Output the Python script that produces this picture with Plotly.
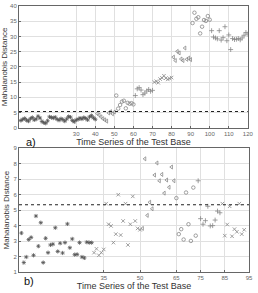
import plotly.graph_objects as go

# ---- data ----
top_x = list(range(1, 121))
top_y = [2.4, 2.8, 3.1, 2.5, 2.2, 3.0, 3.4, 2.6, 2.9, 3.8,
         3.2, 2.1, 1.7, 1.5, 2.3, 3.6, 3.4, 3.2, 3.5, 2.8,
         2.5, 3.0, 2.7, 2.2, 2.9, 3.7, 3.5, 2.4, 2.0, 2.6,
         2.8, 3.2, 2.9, 3.4, 3.1, 2.6, 3.6, 4.0, 3.3, 2.8,
         4.7, 4.2, 3.6, 3.0, 2.6, 2.2, 4.9, 5.3, 4.6, 5.2,
         10.6, 6.3, 7.5, 8.6, 8.9, 6.4, 8.2, 7.9, 8.1, 7.7,
         10.6, 12.8, 13.2, 12.4, 10.9, 11.4, 12.1, 12.6, 12.0, 12.3,
         15.0, 15.3, 14.8, 16.0, 16.4, 17.1, 16.3, 15.9, 16.2, 16.5,
         23.2, 22.1, 25.1, 24.6, 22.6, 22.1, 26.2, 22.5, 22.9, 22.4,
         34.4, 37.8, 35.8, 36.3, 31.0, 33.2, 35.4, 35.1, 36.7, 35.5,
         31.9, 29.8, 29.5, 29.2, 31.9, 28.8, 29.6, 33.2, 28.6, 30.5,
         25.7, 29.3, 29.0, 29.1, 29.3, 28.9, 29.5, 30.4, 31.3, 30.8]
top_threshold = 5.35
top_xticks = [30, 40, 50, 60, 70, 80, 90, 100, 110, 120]
top_yticks = [0, 5, 10, 15, 20, 25, 30, 35, 40]

bot_x = list(range(1, 94))
bot_y = [3.52, 1.61, 1.97, 3.10, 3.24, 2.08, 4.62, 2.67, 4.19, 1.61,
         3.18, 2.25, 2.75, 2.80, 3.86, 2.33, 2.86, 2.23, 2.90, 4.11,
         2.57, 3.14, 2.12, 2.14, 2.90, 1.97, 1.91, 2.93, 2.90, 2.90,
         2.25, 2.50, 2.08, 2.25, 2.46, 5.42, 4.09, 3.98, 2.90, 3.45,
         6.00, 3.39, 4.30, 5.42, 2.75, 4.09, 5.89, 4.30, 3.82, 3.73,
         3.82, 8.32, 4.66, 5.51, 5.09, 7.27, 8.05, 6.90, 7.31, 6.10,
         6.95, 6.48, 7.79, 6.90, 5.78, 3.45, 3.77, 3.10, 6.14, 4.09,
         3.01, 6.46, 3.35, 6.90, 4.45, 4.09, 4.32, 5.25, 3.98, 4.00,
         4.36, 4.94, 4.83, 5.42, 3.35, 4.07, 5.25, 3.31, 3.77, 3.60,
         5.42, 3.45, 3.73]
bot_threshold = 5.35
bot_xticks = [35, 50, 65, 75, 85, 95]
bot_yticks = [1, 2, 3, 4, 5, 6, 7, 8, 9]

x_title = "Time Series of the Test Base"
y_title = "Mahalanobis Distance"

# ---- marker styles (by segment) ----
def symbols(n, segments):
    out = []
    for i in range(n):
        s = segments[-1][1]
        for end, sym in segments:
            if i < end:
                s = sym
                break
        out.append(s)
    return out

top_sym = symbols(len(top_y), [(40, "asterisk-open"), (50, "triangle-left-open"),
                              (60, "circle-open"), (70, "cross-thin-open"),
                              (80, "x-thin-open"), (90, "triangle-left-open"),
                              (100, "circle-open"), (120, "cross-thin-open")])
bot_sym = symbols(len(bot_y), [(30, "asterisk-open"), (50, "x-thin-open"),
                              (64, "triangle-left-open"), (73, "circle-open"),
                              (83, "cross-thin-open"), (93, "x-thin-open")])
top_col = ["#555555" if i < 40 else "#888888" for i in range(len(top_y))]
bot_col = ["#555555" if i < 30 else "#888888" for i in range(len(bot_y))]

fig = go.Figure()
fig.add_trace(go.Scatter(x=top_x, y=top_y, mode="markers", xaxis="x", yaxis="y",
                         marker=dict(symbol=top_sym, size=3.5, color=top_col,
                                     line=dict(width=0.8, color=top_col))))
fig.add_trace(go.Scatter(x=[0, 120], y=[top_threshold, top_threshold], mode="lines",
                         xaxis="x", yaxis="y",
                         line=dict(color="#222222", width=1.1, dash="dot")))
fig.add_trace(go.Scatter(x=bot_x, y=bot_y, mode="markers", xaxis="x2", yaxis="y2",
                         marker=dict(symbol=bot_sym, size=3.5, color=bot_col,
                                     line=dict(width=0.8, color=bot_col))))
fig.add_trace(go.Scatter(x=[0, 95], y=[bot_threshold, bot_threshold], mode="lines",
                         xaxis="x2", yaxis="y2",
                         line=dict(color="#222222", width=1.1, dash="dot")))

axis_common = dict(showline=True, linecolor="#666666", linewidth=1, mirror=True,
                   ticks="inside", ticklen=2, tickcolor="#666666",
                   showgrid=True, gridcolor="#e0e0e0", gridwidth=1,
                   zeroline=False, tickfont=dict(size=6, color="#666666",
                                                 family="Liberation Sans"))

fig.update_layout(
    width=258, height=293,
    margin=dict(l=19, r=3, t=4, b=18),
    paper_bgcolor="white", plot_bgcolor="white",
    showlegend=False,
    font=dict(family="Liberation Sans", color="#333333"),
    xaxis=dict(domain=[0, 0.995], range=[0, 120], tickvals=top_xticks,
               anchor="y", title=dict(text=x_title, font=dict(size=9), standoff=2),
               **axis_common),
    yaxis=dict(domain=[0.542, 1.0], range=[0, 40], tickvals=top_yticks,
               anchor="x", title=dict(text=y_title, font=dict(size=8), standoff=2),
               **axis_common),
    xaxis2=dict(domain=[0, 1.0], range=[0, 95], tickvals=bot_xticks,
                anchor="y2", title=dict(text=x_title, font=dict(size=9), standoff=2),
                **axis_common),
    yaxis2=dict(domain=[0, 0.465], range=[1, 9], tickvals=bot_yticks,
                anchor="x2", title=dict(text=y_title, font=dict(size=8), standoff=2),
                **axis_common),
    annotations=[
        dict(text="a)", xref="paper", yref="paper", x=0.02, y=0.49,
             showarrow=False, font=dict(size=11, color="#111111"), xanchor="left"),
        dict(text="b)", xref="paper", yref="paper", x=0.015, y=-0.065,
             showarrow=False, font=dict(size=11, color="#111111"), xanchor="left"),
    ],
)

fig.write_html("out.html")
